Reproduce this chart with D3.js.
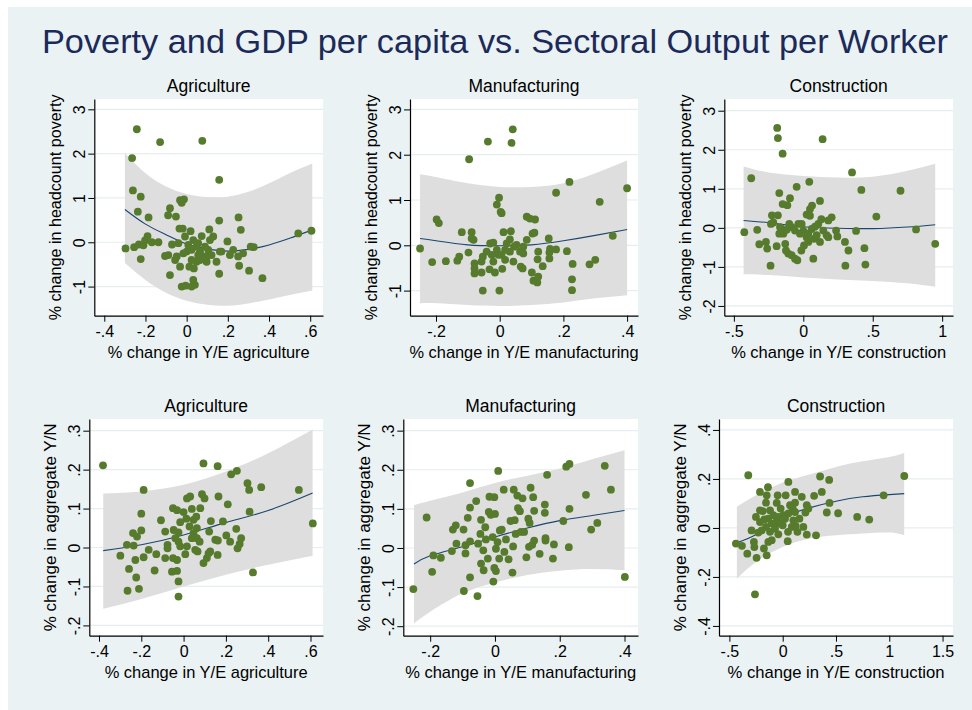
<!DOCTYPE html>
<html><head><meta charset="utf-8">
<script src="https://cdn.jsdelivr.net/npm/d3@7"></script>
<style>body{margin:0;background:#fff;} svg{display:block;font-family:"Liberation Sans",Arial,sans-serif;}</style>
</head><body><svg id="chart" width="972" height="710"></svg>
<script>
const titleText = "Poverty and GDP per capita vs. Sectoral Output per Worker";
const sectors = ["Agriculture", "Manufacturing", "Construction"];
const xTitles = ["% change in Y/E agriculture", "% change in Y/E manufacturing", "% change in Y/E construction"];
const yTitles = ["% change in headcount poverty", "% change in aggregate Y/N"];

const xTicksAgri = [-0.4, -0.2, 0, 0.2, 0.4, 0.6];
const xTicksManuTop = [-0.2, 0, 0.2, 0.4];
const xTicksConsTop = [-0.5, 0, 0.5, 1];
const xTicksManuBot = [-0.2, 0, 0.2, 0.4];
const xTicksConsBot = [-0.5, 0, 0.5, 1, 1.5];
const yTicksPov = [-1, 0, 1, 2, 3];
const yTicksPovCons = [-2, -1, 0, 1, 2, 3];
const yTicksGdp = [-0.2, -0.1, 0, 0.1, 0.2, 0.3];
const yTicksGdpCons = [-0.4, -0.2, 0, 0.2, 0.4];

// [x, y]
const povAgri = [[-0.242,2.55],[-0.129,2.26],[0.076,2.29],[-0.265,1.90],[0.158,1.41],[-0.261,1.17],[-0.223,1.03],[-0.032,0.95],[-0.013,0.97],[-0.024,0.89],[-0.081,0.77],[-0.237,0.69],[-0.185,0.56],[-0.090,0.61],[-0.052,0.58],[0.252,0.56],[0.158,0.49],[0.263,0.28],[-0.035,0.31],[-0.019,0.31],[0.110,0.29],[0.019,0.25],[-0.19,0.14],[0.542,0.20],[0.606,0.26],[-0.297,-0.14],[-0.255,-0.11],[-0.232,-0.05],[-0.202,0.04],[-0.169,0.0],[-0.137,0.0],[-0.21,-0.07],[-0.223,-0.38],[-0.105,-0.31],[-0.071,-0.05],[-0.081,-0.74],[-0.032,-0.55],[-0.024,-1.0],[-0.005,-0.98],[0.032,-0.85],[0.024,-1.0],[0.040,-0.96],[0.158,-0.71],[0.368,-0.81],[0.303,-0.64],[0.255,-0.53],[0.198,0.02],[0.226,-0.17],[0.169,-0.21],[0.274,-0.25],[0.311,-0.10],[0.326,-0.11],[0.25,-0.32],[0.21,-0.29],[0.129,0.13],[0.113,0.05],[0.073,0.14],[0.048,-0.10],[0.065,-0.21],[0.081,-0.32],[0.048,-0.44],[0.024,-0.40],[0.013,-0.55],[0.035,-0.59],[0.0,-0.21],[-0.016,-0.25],[-0.048,-0.32],[-0.056,-0.40],[-0.089,-0.29],[-0.040,-0.02],[-0.008,0.13],[0.097,-0.32],[0.105,-0.17],[0.121,-0.29],[0.145,-0.44],[0.097,-0.44],[0.065,-0.40],[0.056,-0.02],[0.032,0.05],[0.089,-0.10],[0.008,-0.06],[0.024,-0.17],[0.056,-0.29],[0.161,-0.21]];
const povManu = [[0.041,2.56],[-0.037,2.29],[0.037,2.26],[-0.096,1.90],[0.219,1.40],[0.40,1.26],[0.177,1.16],[-0.002,1.05],[0.314,0.96],[-0.009,0.90],[0.003,0.74],[0.006,0.71],[-0.198,0.57],[-0.191,0.49],[0.085,0.63],[0.095,0.59],[0.111,0.57],[-0.119,0.29],[-0.088,0.29],[0.012,0.29],[0.035,0.31],[0.103,0.26],[0.109,0.28],[-0.082,0.12],[-0.088,0.15],[0.154,0.15],[0.355,0.21],[-0.250,-0.07],[-0.212,-0.37],[-0.169,-0.35],[-0.133,-0.34],[-0.127,-0.25],[-0.098,-0.16],[-0.079,-0.40],[-0.079,-0.62],[-0.079,-0.51],[-0.053,-0.25],[-0.057,-0.36],[-0.057,-0.60],[-0.053,-1.0],[-0.001,-1.0],[-0.032,-0.53],[-0.015,-0.60],[0.008,-0.52],[-0.041,-0.14],[-0.030,0.04],[-0.020,0.06],[-0.009,-0.10],[-0.004,-0.21],[-0.020,-0.36],[0.017,-0.32],[0.017,-0.10],[0.022,0.04],[0.032,0.13],[0.043,-0.36],[0.053,0.01],[0.064,-0.14],[0.066,-0.47],[0.072,-0.51],[0.074,-0.03],[0.085,0.12],[0.074,-0.18],[0.101,-0.60],[0.106,-0.78],[0.118,-0.82],[0.121,-0.69],[0.121,-0.14],[0.119,-0.31],[0.135,-0.46],[0.156,-0.16],[0.156,-0.29],[0.158,-0.08],[0.177,-0.09],[0.211,-0.13],[0.229,-0.41],[0.227,-0.75],[0.227,-0.99],[0.282,-0.42],[0.300,-0.32],[0.032,-0.14],[0.006,-0.21],[-0.025,-0.21],[0.045,-0.03]];
const povCons = [[-0.188,2.56],[-0.183,2.30],[0.139,2.27],[-0.149,1.90],[0.351,1.42],[-0.375,1.27],[0.043,1.18],[-0.048,1.05],[0.418,0.97],[0.700,0.95],[-0.173,0.89],[-0.096,0.76],[0.120,0.69],[-0.149,0.61],[-0.115,0.58],[0.063,0.57],[0.048,0.48],[-0.226,0.32],[-0.183,0.32],[0.024,0.34],[0.048,0.31],[0.526,0.29],[0.180,0.19],[0.204,0.27],[0.130,0.22],[-0.216,0.14],[-0.233,0.10],[-0.425,-0.11],[-0.332,-0.05],[-0.317,-0.42],[-0.269,-0.36],[-0.26,-0.53],[-0.236,-0.97],[-0.192,-0.47],[-0.173,-0.15],[-0.144,-0.15],[-0.130,-0.41],[-0.125,-0.58],[-0.108,-0.66],[-0.084,-0.70],[-0.060,-0.79],[-0.043,-0.83],[-0.014,-0.58],[0.072,-0.79],[0.005,-0.45],[0.024,-0.24],[0.036,-0.36],[0.077,-0.28],[0.096,-0.19],[0.120,-0.36],[0.144,-0.07],[0.168,-0.19],[-0.084,0.02],[-0.060,-0.07],[-0.036,0.10],[-0.012,0.10],[-0.101,0.10],[-0.156,-0.03],[-0.120,-0.05],[-0.024,-0.15],[0.0,-0.07],[0.060,-0.03],[0.084,0.03],[0.108,0.10],[0.236,-0.07],[0.245,-0.22],[0.180,-0.24],[0.325,-0.58],[0.300,-0.36],[0.380,-0.08],[0.440,-0.52],[0.447,-0.94],[0.303,-0.97],[0.812,-0.04],[0.950,-0.41],[-0.168,0.02],[0.036,-0.15]];
const gdpAgri = [[-0.381,0.211],[0.094,0.216],[0.161,0.209],[0.252,0.197],[0.225,0.188],[0.302,0.165],[0.367,0.155],[0.545,0.148],[-0.189,0.148],[0.310,0.148],[0.087,0.137],[0.099,0.126],[0.016,0.126],[0.031,0.131],[0.165,0.131],[0.209,0.111],[-0.050,0.101],[-0.031,0.096],[0.039,0.099],[0.079,0.101],[0.312,0.092],[-0.200,0.087],[0.0,0.091],[-0.107,0.070],[0.129,0.068],[0.186,0.067],[0.611,0.062],[-0.016,0.065],[0.047,0.071],[-0.087,0.041],[-0.047,0.045],[-0.024,0.039],[-0.239,0.037],[-0.200,0.044],[-0.220,0.028],[0.121,0.041],[0.249,0.048],[-0.268,0.007],[-0.236,0.005],[-0.299,-0.021],[-0.228,-0.032],[-0.189,-0.025],[-0.165,-0.006],[-0.129,-0.017],[-0.258,-0.055],[-0.137,-0.059],[-0.224,-0.077],[-0.265,-0.111],[-0.211,-0.106],[-0.055,-0.062],[-0.031,-0.060],[-0.024,-0.087],[-0.024,-0.126],[-0.087,-0.027],[-0.076,0.007],[-0.076,-0.002],[-0.050,-0.027],[-0.031,-0.032],[-0.039,0.024],[-0.024,0.015],[0.008,-0.017],[0.016,0.003],[0.039,0.024],[0.047,0.037],[0.063,0.050],[0.063,0.024],[0.076,0.015],[0.055,-0.006],[0.066,-0.010],[0.094,-0.040],[0.110,-0.027],[0.118,-0.015],[0.126,-0.010],[0.150,0.020],[0.162,0.018],[0.161,-0.019],[0.202,0.031],[0.220,0.015],[0.255,-0.002],[0.265,0.009],[0.272,0.024],[0.328,-0.064],[0.028,0.054],[0.060,0.079],[0.013,0.074],[-0.016,0.003]];
const gdpManu = [[-0.252,-0.105],[-0.211,0.078],[-0.194,-0.061],[-0.190,-0.019],[-0.167,-0.025],[-0.133,-0.008],[-0.130,0.047],[-0.121,0.058],[-0.119,0.011],[-0.097,0.047],[-0.096,-0.110],[-0.091,-0.014],[-0.091,0.007],[-0.084,0.077],[-0.077,0.166],[-0.077,0.103],[-0.077,0.017],[-0.077,-0.075],[-0.058,0.120],[-0.054,-0.123],[-0.052,0.011],[-0.045,0.036],[-0.043,0.072],[-0.043,-0.040],[-0.035,-0.057],[-0.036,-0.006],[-0.030,0.053],[-0.028,0.022],[-0.022,-0.027],[-0.019,0.092],[-0.017,0.131],[-0.013,0.085],[-0.002,0.130],[0.0,0.087],[-0.007,0.028],[-0.005,-0.086],[-0.002,-0.051],[0.003,-0.059],[0.003,-0.002],[0.008,0.015],[0.010,0.197],[0.015,0.045],[0.021,0.047],[0.013,-0.027],[0.029,-0.010],[0.027,0.149],[0.034,0.022],[0.042,-0.029],[0.048,0.069],[0.056,0.004],[0.058,0.149],[0.054,-0.063],[0.061,0.071],[0.064,0.036],[0.069,0.134],[0.071,0.102],[0.077,0.094],[0.080,0.041],[0.085,0.127],[0.090,0.041],[0.097,-0.024],[0.103,0.075],[0.107,0.064],[0.110,0.154],[0.105,0.003],[0.115,0.008],[0.118,0.130],[0.121,0.095],[0.121,0.019],[0.138,-0.015],[0.154,0.111],[0.154,0.090],[0.156,0.025],[0.156,0.019],[0.161,0.187],[0.179,-0.027],[0.182,0.009],[0.211,0.069],[0.220,0.208],[0.230,0.215],[0.230,0.100],[0.228,0.002],[0.281,0.136],[0.297,0.047],[0.316,0.064],[0.339,0.210],[0.358,0.149],[0.401,-0.074]];
const gdpCons = [[-0.323,0.215],[1.141,0.212],[0.351,0.210],[0.436,0.196],[0.053,0.188],[-0.138,0.166],[-0.213,0.147],[-0.047,0.133],[0.116,0.147],[0.367,0.147],[0.295,0.131],[-0.150,0.133],[0.028,0.133],[0.179,0.127],[0.947,0.133],[-0.157,0.103],[-0.056,0.102],[0.116,0.103],[0.226,0.093],[0.439,0.102],[-0.019,0.079],[0.094,0.079],[-0.188,0.069],[-0.119,0.072],[0.414,0.063],[0.520,0.060],[0.699,0.045],[0.812,0.034],[0.213,0.063],[0.241,0.079],[0.157,0.038],[-0.251,0.045],[-0.213,0.024],[-0.172,0.035],[-0.135,0.038],[-0.088,0.052],[-0.063,0.024],[-0.025,0.018],[0.022,0.038],[0.053,0.059],[0.069,0.093],[0.085,0.004],[0.122,0.008],[0.138,-0.016],[0.194,0.004],[0.226,-0.027],[0.313,-0.030],[0.050,-0.016],[0.047,-0.054],[-0.041,-0.026],[-0.072,-0.003],[-0.119,-0.016],[-0.103,-0.050],[-0.135,-0.057],[-0.176,-0.084],[-0.150,-0.112],[-0.157,0.004],[-0.197,-0.010],[-0.229,-0.019],[-0.292,-0.010],[-0.270,-0.057],[-0.266,-0.078],[-0.332,-0.105],[-0.245,-0.122],[-0.382,-0.073],[-0.439,-0.064],[-0.260,-0.271],[0.0,0.011],[0.006,0.052],[0.100,0.031],[-0.041,0.045],[-0.103,0.018],[-0.213,0.072],[0.116,0.065]];

// fitted curve and band: [x, fit, lower, upper]
const povAgriFit = [[-0.3,0.74,-0.47,2.01],[-0.2,0.41,-0.85,1.56],[-0.1,0.17,-1.14,1.26],[0,-0.04,-1.32,1.09],[0.1,-0.15,-1.41,1.02],[0.2,-0.20,-1.43,1.03],[0.3,-0.16,-1.38,1.14],[0.4,-0.06,-1.29,1.33],[0.5,0.09,-1.19,1.56],[0.61,0.28,-1.09,1.78]];
const povManuFit = [[-0.25,0.15,-1.28,1.57],[-0.2,0.10,-1.28,1.51],[-0.1,0.01,-1.32,1.37],[0,-0.01,-1.34,1.29],[0.1,0.01,-1.32,1.29],[0.2,0.10,-1.26,1.37],[0.3,0.22,-1.17,1.59],[0.4,0.35,-1.10,1.87]];
const povConsFit = [[-0.43,0.19,-1.19,1.57],[-0.25,0.13,-1.21,1.42],[0,0.03,-1.27,1.33],[0.25,-0.01,-1.32,1.29],[0.5,-0.02,-1.36,1.31],[0.75,0.02,-1.42,1.46],[0.95,0.08,-1.51,1.64]];
const gdpAgriFit = [[-0.38,-0.008,-0.157,0.139],[-0.2,0.007,-0.132,0.144],[0,0.032,-0.100,0.161],[0.2,0.064,-0.070,0.195],[0.4,0.095,-0.044,0.242],[0.61,0.140,-0.021,0.303]];
const gdpManuFit = [[-0.25,-0.041,-0.193,0.110],[-0.2,-0.020,-0.163,0.121],[-0.1,0.003,-0.116,0.142],[0,0.028,-0.088,0.166],[0.1,0.051,-0.069,0.185],[0.2,0.070,-0.058,0.203],[0.3,0.083,-0.054,0.227],[0.4,0.096,-0.057,0.250]];
const gdpConsFit = [[-0.43,-0.060,-0.207,0.086],[-0.25,-0.027,-0.139,0.133],[0,0.041,-0.078,0.185],[0.25,0.082,-0.044,0.218],[0.5,0.109,-0.030,0.249],[0.75,0.127,-0.023,0.272],[1.0,0.136,-0.019,0.290],[1.14,0.140,-0.030,0.306]];

// layout (pixel frames and axis extents)
const panels = [
  {pts: povAgri, fit: povAgriFit, sub: sectors[0], xt: xTitles[0], yt: yTitles[0], xTicks: xTicksAgri, yTicks: yTicksPov, xDom: [-0.4485, 0.6621], yDom: [-1.657, 3.233], r: {l: 94.3, r: 323, t: 99, b: 315.7}, xtw: 202, ytw: 226},
  {pts: povManu, fit: povManuFit, sub: sectors[1], xt: xTitles[1], yt: yTitles[0], xTicks: xTicksManuTop, yTicks: yTicksPov, xDom: [-0.2816, 0.4342], yDom: [-1.554, 3.230], r: {l: 410, r: 638, t: 99, b: 315.7}, xtw: 229, ytw: 226},
  {pts: povCons, fit: povConsFit, sub: sectors[2], xt: xTitles[2], yt: yTitles[0], xTicks: xTicksConsTop, yTicks: yTicksPovCons, xDom: [-0.569, 1.078], yDom: [-2.25, 3.30], r: {l: 724.3, r: 953, t: 99, b: 315.7}, xtw: 215, ytw: 226},
  {pts: gdpAgri, fit: gdpAgriFit, sub: sectors[0], xt: xTitles[0], yt: yTitles[1], xTicks: xTicksAgri, yTicks: yTicksGdp, xDom: [-0.4458, 0.6591], yDom: [-0.2264, 0.330], r: {l: 89.3, r: 323, t: 419, b: 635.7}, xtw: 203, ytw: 208},
  {pts: gdpManu, fit: gdpManuFit, sub: sectors[1], xt: xTitles[1], yt: yTitles[1], xTicks: xTicksManuBot, yTicks: yTicksGdp, xDom: [-0.283, 0.4416], yDom: [-0.2243, 0.3298], r: {l: 403.3, r: 638, t: 419, b: 635.7}, xtw: 231, ytw: 208},
  {pts: gdpCons, fit: gdpConsFit, sub: sectors[2], xt: xTitles[2], yt: yTitles[1], xTicks: xTicksConsBot, yTicks: yTicksGdpCons, xDom: [-0.5976, 1.598], yDom: [-0.4399, 0.4447], r: {l: 719, r: 953, t: 419, b: 635.7}, xtw: 217, ytw: 208}
];

const fmt = d => String(+d.toFixed(2)).replace(/^(-?)0\./, "$1.");
const svg = d3.select("#chart");
svg.append("rect").attr("x", 8).attr("y", 7).attr("width", 964).attr("height", 703).attr("fill", "#eaf2f3");
svg.append("text").attr("x", 495).attr("y", 53).attr("text-anchor", "middle")
  .attr("font-size", 34).attr("fill", "#1c2a5a")
  .attr("textLength", 906).attr("lengthAdjust", "spacingAndGlyphs").text(titleText);

panels.forEach(p => {
  const R = p.r;
  const g = svg.append("g");
  const x = d3.scaleLinear().domain(p.xDom).range([R.l, R.r]);
  const y = d3.scaleLinear().domain(p.yDom).range([R.b, R.t]);
  g.append("rect").attr("x", R.l).attr("y", R.t).attr("width", R.r - R.l).attr("height", R.b - R.t).attr("fill", "#fff");
  g.selectAll("line.grid").data(p.yTicks).join("line").attr("class", "grid")
    .attr("x1", R.l).attr("x2", R.r).attr("y1", d => y(d)).attr("y2", d => y(d))
    .attr("stroke", "#e6eef0").attr("stroke-width", 1.2);
  g.append("path").datum(p.fit)
    .attr("d", d3.area().x(d => x(d[0])).y0(d => y(d[2])).y1(d => y(d[3])).curve(d3.curveNatural))
    .attr("fill", "#dedede");
  g.append("path").datum(p.fit)
    .attr("d", d3.line().x(d => x(d[0])).y(d => y(d[1])).curve(d3.curveNatural))
    .attr("fill", "none").attr("stroke", "#1a476f").attr("stroke-width", 1.1);
  g.selectAll("circle").data(p.pts).join("circle")
    .attr("cx", d => x(d[0])).attr("cy", d => y(d[1])).attr("r", 3.9).attr("fill", "#567b2c");

  const xa = g.append("g").attr("transform", `translate(0,${R.b})`)
    .call(d3.axisBottom(x).tickValues(p.xTicks).tickFormat(fmt).tickSize(6).tickSizeOuter(0).tickPadding(4));
  const ya = g.append("g").attr("transform", `translate(${R.l},0)`)
    .call(d3.axisLeft(y).tickValues(p.yTicks).tickFormat(fmt).tickSize(6).tickSizeOuter(0));
  [xa, ya].forEach(a => {
    a.attr("font-family", null).attr("font-size", 16);
    a.select(".domain").attr("stroke", "#000").attr("stroke-width", 1.2);
    a.selectAll(".tick line").attr("stroke", "#000");
    a.selectAll(".tick text").attr("fill", "#000");
  });
  xa.selectAll(".tick text").attr("dy", "0.71em");
  ya.selectAll(".tick text").attr("transform", "rotate(-90)").attr("x", 0).attr("y", -9).attr("dy", 0).attr("text-anchor", "middle");

  const cx = (R.l + R.r) / 2, cy = (R.t + R.b) / 2;
  g.append("text").attr("x", cx).attr("y", R.t - 7).attr("text-anchor", "middle").attr("font-size", 17.5).attr("fill", "#000").text(p.sub);
  g.append("text").attr("x", cx).attr("y", R.b + 42).attr("text-anchor", "middle").attr("font-size", 16.4).attr("fill", "#000")
    .attr("textLength", p.xtw).attr("lengthAdjust", "spacingAndGlyphs").text(p.xt);
  g.append("text").attr("transform", `translate(${R.l - 33},${cy}) rotate(-90)`).attr("text-anchor", "middle").attr("font-size", 16.4).attr("fill", "#000")
    .attr("textLength", p.ytw).attr("lengthAdjust", "spacingAndGlyphs").text(p.yt);
});
</script></body></html>
